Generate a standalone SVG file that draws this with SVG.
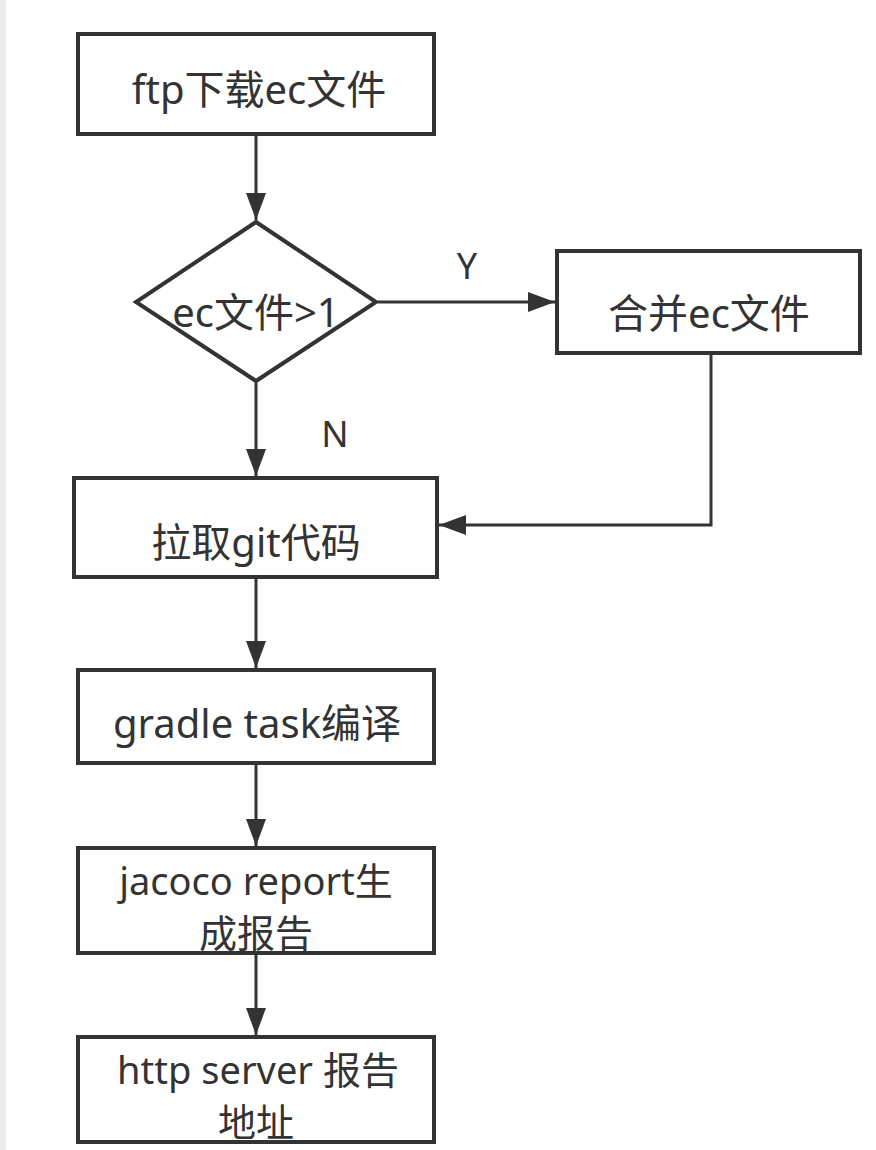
<svg xmlns="http://www.w3.org/2000/svg" width="876" height="1150" viewBox="0 0 876 1150">
<style>
.box{fill:#fff;stroke:#333;stroke-width:4}
.t{font-family:"Noto Sans","Noto Sans CJK SC",sans-serif;font-size:40px;fill:#333;text-anchor:middle}
.t2{font-size:38px}
.e{fill:none;stroke:#333;stroke-width:3}
</style>
<defs>
<marker id="ah" viewBox="0 0 27 20" refX="27" refY="10" markerWidth="27" markerHeight="20" markerUnits="userSpaceOnUse" orient="auto">
<path d="M0,0 L27,10 L0,20 Z" fill="#333"/>
</marker>
</defs>
<rect x="0" y="0" width="876" height="1150" fill="#fff"/>
<rect x="0" y="0" width="6" height="1150" fill="#ececec"/>
<g id="connectors">
<path class="e" d="M256,135 V220" marker-end="url(#ah)"/>
<path class="e" d="M378,302 H555" marker-end="url(#ah)"/>
<path class="e" d="M256,383 V476" marker-end="url(#ah)"/>
<path class="e" d="M711,355 V525 H439" marker-end="url(#ah)"/>
<path class="e" d="M256,579 V668" marker-end="url(#ah)"/>
<path class="e" d="M256,765 V846" marker-end="url(#ah)"/>
<path class="e" d="M256,955 V1035" marker-end="url(#ah)"/>
<text class="t" x="467" y="279" style="font-size:36px">Y</text>
<text class="t" x="335" y="447" style="font-size:36px">N</text>
</g>
<g id="n1">
<rect class="box" x="78" y="34" width="356" height="100"/>
<text class="t" x="259" y="104">ftp下载ec文件</text>
</g>
<g id="n2">
<path class="box" d="M256,222 L376,302 L256,381 L136,302 Z"/>
<text class="t" x="256" y="327">ec文件&gt;1</text>
</g>
<g id="n3">
<rect class="box" x="557" y="251" width="303" height="102"/>
<text class="t" x="709" y="328">合并ec文件</text>
</g>
<g id="n4">
<rect class="box" x="74" y="478" width="363" height="99"/>
<text class="t" x="256" y="557">拉取git代码</text>
</g>
<g id="n5">
<rect class="box" x="78" y="670" width="356" height="93"/>
<text class="t" x="257" y="738">gradle task编译</text>
</g>
<g id="n6">
<rect class="box" x="78" y="848" width="356" height="105"/>
<text class="t t2" x="256" y="895">jacoco report生</text>
<text class="t t2" x="256" y="947">成报告</text>
</g>
<g id="n7">
<rect class="box" x="78" y="1037" width="356" height="105"/>
<text class="t t2" x="258" y="1084">http server 报告</text>
<text class="t t2" x="256" y="1136">地址</text>
</g>
</svg>
